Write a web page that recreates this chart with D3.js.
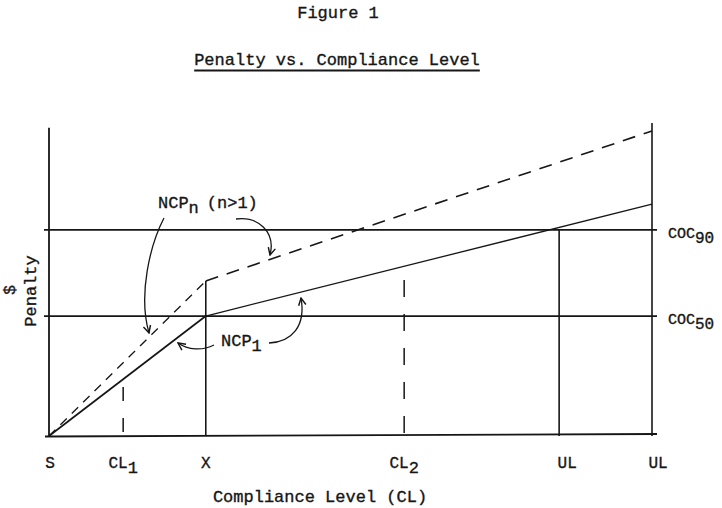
<!DOCTYPE html>
<html>
<head>
<meta charset="utf-8">
<script src="https://cdn.jsdelivr.net/npm/d3@7"></script>
<style>
  html, body { margin: 0; padding: 0; background: #fff; }
  svg { display: block; }
  text { font-family: "Liberation Mono", "Courier New", "DejaVu Sans Mono", monospace; fill: #161616; stroke: #161616; stroke-width: 0.35; }
</style>
</head>
<body>
<svg id="chart" width="722" height="508"></svg>
<script>
// ---- data ----
const figureLabel = "Figure 1";
const chartTitle = "Penalty vs. Compliance Level";
const xAxisTitle = "Compliance Level (CL)";
const yAxisTitle = "Penalty";
const yUnit = "$";

// compliance-level positions (abstract units, S = 0, right UL = 100)
const tickNames = ["S", "CL", "X", "CL", "UL", "UL"];
const tickSubs  = ["", "1", "", "2", "", ""];
const tickPos   = [0, 12.3, 26, 58.9, 84.6, 100];

// cost-of-compliance levels
const cocNames  = ["COC", "COC"];
const cocSubs   = ["90", "50"];
const cocValues = [66.5, 38.7];

// penalty curves
const ncp1X = [0, 26, 100];
const ncp1Y = [0, 38.7, 74.8];
const ncpnX = [0, 26, 100];
const ncpnY = [0, 50.0, 98.4];

// vertical reference marks: x position, top value, dashed?
const markX    = [26, 12.3, 58.9, 84.6, 100];
const markTop  = [50.0, 15.8, 50.3, 66.5, 101];
const markDash = [false, true, true, false, false];

const yAxisTop = 99.4;

// ---- drawing ----
const svg = d3.select("#chart");
const x = d3.scaleLinear().domain([0, 100]).range([49, 652]);
const y = d3.scaleLinear().domain([0, 100]).range([436, 126]);
const ink = "#161616";

// titles
svg.append("text").attr("x", 338).attr("y", 18).attr("text-anchor", "middle")
  .attr("font-size", 17).text(figureLabel);
const t = svg.append("text").attr("x", 337).attr("y", 65).attr("text-anchor", "middle")
  .attr("font-size", 17).text(chartTitle);
const tb = t.node().getBBox();
svg.append("line").attr("x1", tb.x).attr("x2", tb.x + tb.width)
  .attr("y1", 70.5).attr("y2", 70.5).attr("stroke", ink).attr("stroke-width", 2.2);

// axes
svg.append("line").attr("x1", x(0)).attr("x2", x(0)).attr("y1", y(yAxisTop)).attr("y2", y(0) + 1)
  .attr("stroke", ink).attr("stroke-width", 1.8);
svg.append("line").attr("x1", x(0) - 4).attr("x2", x(100) + 5).attr("y1", y(0) + 0.5).attr("y2", y(0) - 2)
  .attr("stroke", ink).attr("stroke-width", 1.8);

// COC horizontal lines
cocValues.forEach((v, i) => {
  svg.append("line").attr("x1", x(0) - 5).attr("x2", x(100) + 5)
    .attr("y1", y(v)).attr("y2", y(v)).attr("stroke", ink).attr("stroke-width", 1.7);
  const tx = svg.append("text").attr("x", x(100) + 16).attr("y", y(v) + 8).attr("font-size", 15);
  tx.append("tspan").text(cocNames[i]);
  tx.append("tspan").attr("dy", 5).attr("font-size", 16).text(cocSubs[i]);
});

// vertical marks
markX.forEach((mx, i) => {
  svg.append("line").attr("x1", x(mx)).attr("x2", x(mx))
    .attr("y1", y(markTop[i])).attr("y2", y(0))
    .attr("stroke", ink).attr("stroke-width", markDash[i] ? 1.5 : 1.6)
    .attr("stroke-dasharray", markDash[i] ? (i === 1 ? "14,17" : "17,17") : null);
});

// penalty curves
const line = d3.line().x(d => x(d[0])).y(d => y(d[1]));
const ncp1 = ncp1X.map((v, i) => [v, ncp1Y[i]]);
const ncpn = ncpnX.map((v, i) => [v, ncpnY[i]]);
svg.append("path").attr("d", line(ncp1.slice(0, 2))).attr("fill", "none")
  .attr("stroke", ink).attr("stroke-width", 1.7);
svg.append("path").attr("d", line(ncp1.slice(1))).attr("fill", "none")
  .attr("stroke", ink).attr("stroke-width", 1.3);
svg.append("path").attr("d", line(ncpn.slice(0, 2))).attr("fill", "none")
  .attr("stroke", ink).attr("stroke-width", 1.3).attr("stroke-dasharray", "9,7");
svg.append("path").attr("d", line(ncpn.slice(1))).attr("fill", "none")
  .attr("stroke", ink).attr("stroke-width", 1.6).attr("stroke-dasharray", "13,9");

// tick labels
const tickDx = [1, 0, 0, 0, 8, 6];
tickPos.forEach((p, i) => {
  const tx = svg.append("text").attr("x", x(p) + tickDx[i]).attr("y", 468)
    .attr("text-anchor", "middle").attr("font-size", 16);
  tx.append("tspan").text(tickNames[i]);
  if (tickSubs[i]) tx.append("tspan").attr("dy", 5).attr("font-size", 17).text(tickSubs[i]);
});

// axis titles
svg.append("text").attr("x", 320).attr("y", 502).attr("text-anchor", "middle")
  .attr("font-size", 17).text(xAxisTitle);
svg.append("text").attr("transform", "translate(36,291) rotate(-90)").attr("text-anchor", "middle")
  .attr("font-size", 17).text(yAxisTitle);
svg.append("text").attr("transform", "translate(15,290) rotate(-90)").attr("text-anchor", "middle")
  .attr("font-size", 16).text(yUnit);

// curve annotations
const n1 = svg.append("text").attr("x", 158).attr("y", 208).attr("font-size", 17);
n1.append("tspan").text("NCP");
n1.append("tspan").attr("dy", 5).text("n");
n1.append("tspan").attr("dy", -5).attr("dx", 8).text("(n>1)");
const n2 = svg.append("text").attr("x", 221).attr("y", 346).attr("font-size", 17);
n2.append("tspan").text("NCP");
n2.append("tspan").attr("dy", 5).text("1");

svg.append("defs").append("marker").attr("id", "ah")
  .attr("viewBox", "0 0 10 10").attr("refX", 9).attr("refY", 5)
  .attr("markerWidth", 7).attr("markerHeight", 7).attr("orient", "auto")
  .append("path").attr("d", "M1,1 L9,5 L1,9").attr("fill", "none")
  .attr("stroke", ink).attr("stroke-width", 1.6);

const arrows = [
  "M164,218 C150,245 138,295 149,333",
  "M236,219 C258,216 276,232 270,255",
  "M214,345 C202,351 188,350 178,343",
  "M269,343 C292,342 306,326 301,298"
];
arrows.forEach(d => svg.append("path").attr("d", d).attr("fill", "none")
  .attr("stroke", ink).attr("stroke-width", 1.3).attr("marker-end", "url(#ah)"));
</script>
</body>
</html>
